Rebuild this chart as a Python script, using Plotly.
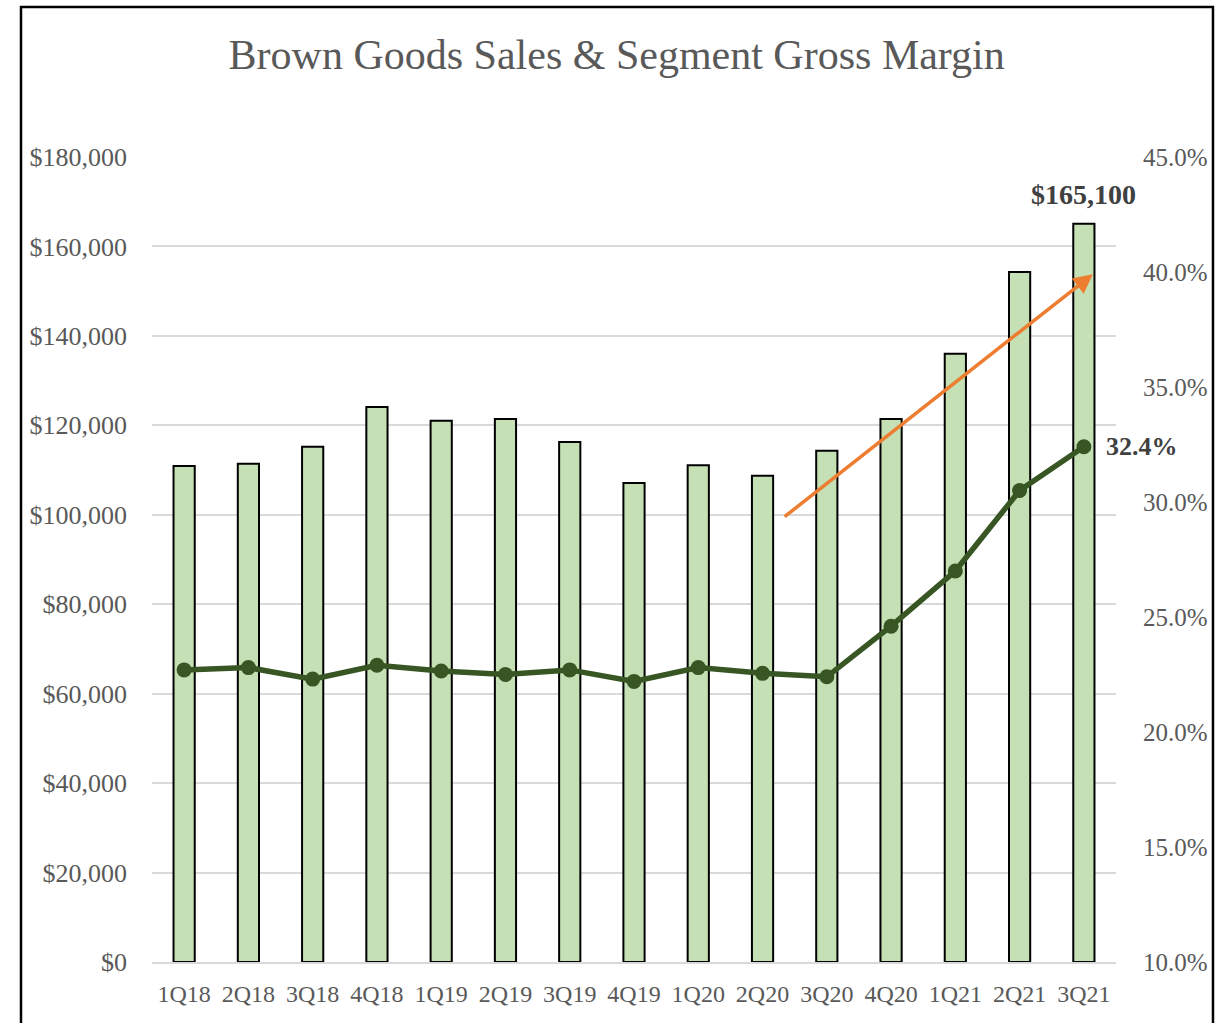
import plotly.graph_objects as go

# Quarterly brown goods sales ($) and segment gross margin (fraction)
quarters = ["1Q18", "2Q18", "3Q18", "4Q18", "1Q19", "2Q19", "3Q19", "4Q19",
            "1Q20", "2Q20", "3Q20", "4Q20", "1Q21", "2Q21", "3Q21"]
sales = [110900, 111400, 115200, 124100, 121000, 121400, 116300, 107100,
         111100, 108700, 114300, 121400, 136000, 154300, 165100]
gross_margin = [0.227, 0.228, 0.223, 0.229, 0.2265, 0.225, 0.227, 0.222,
                0.228, 0.2255, 0.224, 0.246, 0.270, 0.305, 0.324]

# Trend arrow endpoints (category index, sales axis)
trend_start = (9.32, 99300)
trend_end = (14.14, 153800)

FONT = "Liberation Serif"
GRAY = "#595959"
DARK = "#404040"
BAR_FILL = "#C5E0B4"
LINE_GREEN = "#375623"
ORANGE = "#ED7D31"

fig = go.Figure()

fig.add_trace(go.Bar(
    x=quarters, y=sales, name="Sales",
    marker=dict(color=BAR_FILL, line=dict(color="black", width=2)),
    yaxis="y",
))

fig.add_trace(go.Scatter(
    x=quarters, y=gross_margin, name="Gross Margin", mode="lines+markers",
    line=dict(color=LINE_GREEN, width=5.5),
    marker=dict(color=LINE_GREEN, size=15),
    yaxis="y2",
))

# Value callouts on the latest quarter
fig.add_annotation(
    x=quarters[-1], y=sales[-1], xref="x", yref="y",
    text="<b>${:,.0f}</b>".format(sales[-1]), showarrow=False,
    yanchor="bottom", yshift=12,
    font=dict(family=FONT, size=28, color=DARK),
)
fig.add_annotation(
    x=quarters[-1], y=gross_margin[-1], xref="x", yref="y2",
    text="<b>{:.1%}</b>".format(gross_margin[-1]), showarrow=False,
    xanchor="left", xshift=20,
    font=dict(family=FONT, size=26, color=DARK),
)

# Trend arrow
fig.add_annotation(
    x=trend_end[0], y=trend_end[1], xref="x", yref="y",
    ax=trend_start[0], ay=trend_start[1], axref="x", ayref="y",
    showarrow=True, arrowhead=2, arrowsize=1.1, arrowwidth=3.5,
    arrowcolor=ORANGE, standoff=0, startstandoff=0, text="",
)

# Outer frame
fig.add_shape(
    type="rect", xref="paper", yref="paper",
    x0=-0.1359, x1=1.1006, y0=-0.095, y1=1.1863,
    line=dict(color="black", width=2.5), fillcolor="rgba(0,0,0,0)",
    layer="above",
)

fig.update_layout(
    width=1226, height=1023,
    margin=dict(l=152, r=110, t=157, b=61, autoexpand=False),
    paper_bgcolor="white", plot_bgcolor="white",
    showlegend=False,
    bargap=0.67,
    title=dict(
        text="Brown Goods Sales & Segment Gross Margin",
        x=0.503, xanchor="center", y=0.947, yanchor="middle",
        font=dict(family=FONT, size=42, color=GRAY),
    ),
    xaxis=dict(
        type="category", range=[-0.5, len(quarters) - 0.5], autorange=False,
        showgrid=False, showline=True, linecolor="#D9D9D9", linewidth=2,
        ticks="", ticklabelstandoff=9, automargin=False,
        tickfont=dict(family=FONT, size=24, color=GRAY),
    ),
    yaxis=dict(
        range=[0, 180000], dtick=20000, tickformat="$,.0f",
        showgrid=True, gridcolor="#D9D9D9", gridwidth=1.5,
        zeroline=False, showline=False, ticks="", ticklabelstandoff=24,
        automargin=False,
        tickfont=dict(family=FONT, size=26, color=GRAY),
    ),
    yaxis2=dict(
        range=[0.10, 0.45], dtick=0.05, tickformat=".1%",
        overlaying="y", side="right",
        showgrid=False, zeroline=False, showline=False, ticks="",
        ticklabelstandoff=26, automargin=False,
        tickfont=dict(family=FONT, size=25, color=GRAY),
    ),
)

fig.write_html("out.html")
